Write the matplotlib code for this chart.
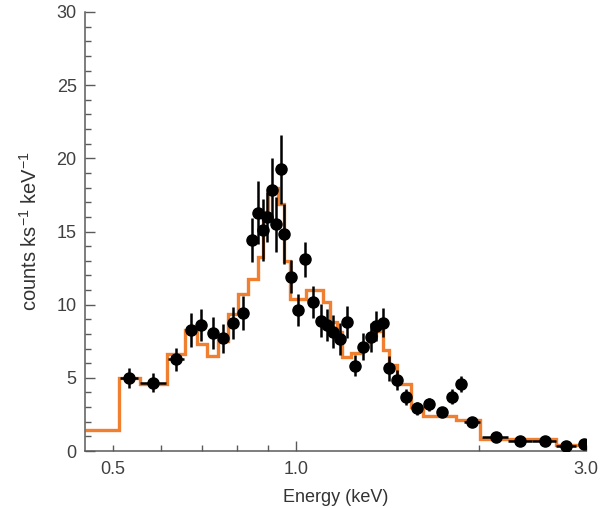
import numpy as np
import matplotlib
matplotlib.use('Agg')
import matplotlib.pyplot as plt

plt.rcParams['font.family'] = ['Liberation Sans', 'DejaVu Sans']
plt.rcParams['mathtext.fontset'] = 'custom'
plt.rcParams['mathtext.rm'] = 'Liberation Sans'
plt.rcParams['mathtext.default'] = 'regular'

# data points (keV, counts ks^-1 keV^-1)
energy = [0.532, 0.583, 0.635, 0.672, 0.699, 0.730, 0.760, 0.789, 0.819,
          0.846, 0.867, 0.882, 0.897, 0.912, 0.927, 0.944, 0.957,
          0.980, 1.009, 1.035, 1.068, 1.098, 1.126, 1.152, 1.184, 1.214,
          1.250, 1.290, 1.327, 1.357, 1.391, 1.423, 1.467, 1.520, 1.582,
          1.655, 1.742, 1.808, 1.871, 1.950, 2.130, 2.339, 2.564, 2.783, 2.983]
rate = [4.99, 4.67, 6.27, 8.27, 8.59, 8.09, 7.70, 8.77, 9.41,
        14.42, 16.29, 15.10, 16.00, 17.84, 15.50, 19.25, 14.83,
        11.92, 9.64, 13.10, 10.20, 8.91, 8.61, 8.16, 7.63, 8.79,
        5.83, 7.13, 7.77, 8.54, 8.77, 5.65, 4.85, 3.71, 2.92,
        3.19, 2.64, 3.71, 4.56, 1.96, 0.98, 0.71, 0.68, 0.34, 0.46]
rate_err = [0.70, 0.65, 0.80, 1.15, 1.10, 1.10, 1.00, 1.10, 1.15,
            1.50, 2.15, 2.10, 1.70, 2.20, 1.87, 2.35, 2.05,
            1.10, 1.10, 1.20, 1.10, 1.15, 1.10, 1.10, 1.10, 1.10,
            0.70, 0.90, 1.00, 1.05, 1.00, 0.85, 0.70, 0.55, 0.45,
            0.45, 0.35, 0.50, 0.55, 0.30, 0.20, 0.15, 0.15, 0.15, 0.10]
energy_err = [0.018, 0.029, 0.019, 0.012, 0.010, 0.010, 0.010, 0.010, 0.010,
              0.006, 0.006, 0.006, 0.006, 0.006, 0.006, 0.006, 0.006,
              0.010, 0.010, 0.010, 0.010, 0.010, 0.010, 0.010, 0.010, 0.010,
              0.012, 0.012, 0.012, 0.012, 0.012, 0.012, 0.015, 0.020, 0.020,
              0.025, 0.030, 0.025, 0.025, 0.059, 0.105, 0.110, 0.116, 0.105, 0.056]

# model (step histogram): bin edges and values
model_edges = [0.450, 0.512, 0.554, 0.613, 0.656, 0.687, 0.714, 0.746, 0.774,
               0.804, 0.835, 0.867, 0.884, 0.900, 0.934, 0.956, 0.978, 1.041,
               1.109, 1.140, 1.169, 1.189, 1.234, 1.274, 1.313, 1.357, 1.391,
               1.421, 1.465, 1.549, 1.618, 1.836, 2.005, 2.680, 3.0]
model_vals = [1.44, 4.97, 4.58, 6.63, 8.27, 7.29, 6.49, 7.54, 9.36,
              10.71, 11.76, 13.28, 16.3, 18.0, 16.9, 13.0, 10.4, 11.0,
              10.2, 8.84, 8.1, 6.45, 6.7, 7.2, 7.9, 8.2, 6.9,
              5.9, 4.6, 3.0, 2.4, 2.1, 0.8, 0.4]

fig = plt.figure(figsize=(6.02, 5.08), dpi=100)
ax = fig.add_axes([85/602, 57/508, 501/602, 439/508])

ax.stairs(model_vals, model_edges, color='#f08030', lw=2.4, zorder=2,
          baseline=None)
ax.errorbar(energy, rate, yerr=rate_err, xerr=energy_err, fmt='o',
            color='black', ms=8, elinewidth=1.8, capsize=0, zorder=3)

ax.set_xscale('log')
ax.set_xlim(0.45, 3.0)
ax.set_ylim(0, 30)

ax.set_xticks([1.0])
ax.set_xticklabels(['1.0'])
ax.set_xticks([0.5, 0.6, 0.7, 0.8, 0.9, 2.0, 3.0], minor=True)
ax.set_xticklabels(['0.5', '', '', '', '', '', '3.0'], minor=True)
ax.set_yticks([0, 5, 10, 15, 20, 25, 30])
ax.set_yticks(np.arange(0, 31, 1), minor=True)

for s in ['top', 'right']:
    ax.spines[s].set_visible(False)
for s in ['left', 'bottom']:
    ax.spines[s].set_color('#5a5a5a')
    ax.spines[s].set_linewidth(1.1)

ax.tick_params(which='both', direction='in', colors='#5a5a5a',
               labelcolor='#404040', labelsize=13, width=1.0)
ax.tick_params(which='major', length=7, pad=6)
ax.tick_params(which='minor', length=4, pad=6)
ax.tick_params(axis='x', which='both', pad=7)

ax.set_xlabel('Energy (keV)', fontsize=13, color='#333333', labelpad=8)
ax.set_ylabel('counts ks$^{-1}$ keV$^{-1}$', fontsize=14.5, color='#333333',
              labelpad=11)

fig.savefig('out.png', dpi=100)
